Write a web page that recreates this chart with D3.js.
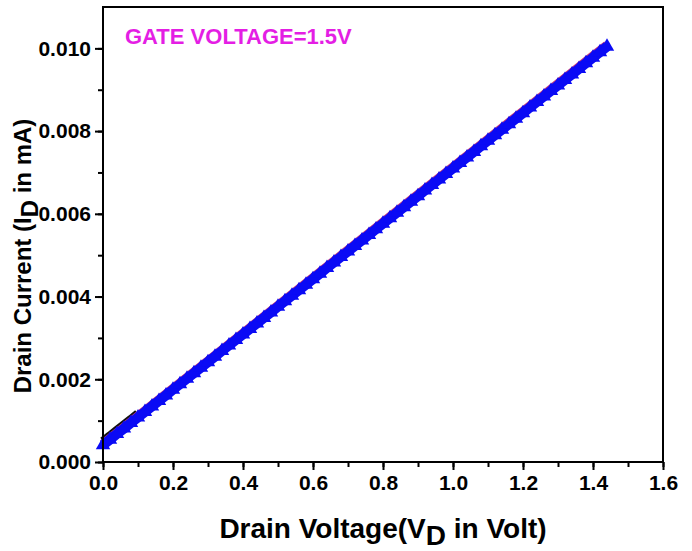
<!DOCTYPE html>
<html>
<head>
<meta charset="utf-8">
<script src="https://cdn.jsdelivr.net/npm/d3@7"></script>
<style>
  html, body { margin: 0; padding: 0; background: #fff; }
  svg { display: block; }
  text { font-family: "Liberation Sans", Arial, sans-serif; font-weight: bold; }
</style>
</head>
<body>
<svg id="chart" width="692" height="551"></svg>
<script>
// ---- Data ----
const voltage = [0.00,0.02,0.04,0.06,0.08,0.10,0.12,0.14,0.16,0.18,0.20,0.22,0.24,0.26,0.28,0.30,0.32,0.34,0.36,0.38,0.40,0.42,0.44,0.46,0.48,0.50,0.52,0.54,0.56,0.58,0.60,0.62,0.64,0.66,0.68,0.70,0.72,0.74,0.76,0.78,0.80,0.82,0.84,0.86,0.88,0.90,0.92,0.94,0.96,0.98,1.00,1.02,1.04,1.06,1.08,1.10,1.12,1.14,1.16,1.18,1.20,1.22,1.24,1.26,1.28,1.30,1.32,1.34,1.36,1.38,1.40,1.42,1.44];
const blueCurrent = [0.000410,0.000544,0.000678,0.000811,0.000945,0.001079,0.001213,0.001347,0.001480,0.001614,0.001748,0.001882,0.002016,0.002149,0.002283,0.002417,0.002551,0.002685,0.002818,0.002952,0.003086,0.003220,0.003354,0.003487,0.003621,0.003755,0.003889,0.004023,0.004156,0.004290,0.004424,0.004558,0.004692,0.004825,0.004959,0.005093,0.005227,0.005361,0.005494,0.005628,0.005762,0.005896,0.006030,0.006163,0.006297,0.006431,0.006565,0.006699,0.006832,0.006966,0.007100,0.007234,0.007368,0.007501,0.007635,0.007769,0.007903,0.008037,0.008170,0.008304,0.008438,0.008572,0.008706,0.008839,0.008973,0.009107,0.009241,0.009375,0.009508,0.009642,0.009776,0.009910,0.010044];

const redVoltage = [0.0,0.1,0.2,0.3,0.4,0.5,0.6,0.7,0.8,0.9,1.0,1.1,1.2,1.3,1.4,1.44];
const redCurrent = [0.00044,0.00111,0.00178,0.00245,0.00312,0.00379,0.00446,0.00513,0.00580,0.00647,0.00714,0.00781,0.00848,0.00915,0.00982,0.01008];

const blackVoltage = [0.00,0.02,0.04,0.06,0.08,0.10];
const blackCurrent = [0.00050,0.00063,0.00077,0.00090,0.00103,0.00117];

const xTicks = [0.0,0.2,0.4,0.6,0.8,1.0,1.2,1.4,1.6];
const yTicks = [0.000,0.002,0.004,0.006,0.008,0.010];
const titleText = "GATE VOLTAGE=1.5V";

// ---- Layout ----
const svg = d3.select("#chart");
const W = 692, H = 551;
const mLeft = 103, mRight = 663, mTop = 7, mBottom = 462;

const x = d3.scaleLinear().domain([0, 1.6]).range([mLeft, mRight]);
const y = d3.scaleLinear().domain([0, 0.011]).range([mBottom, mTop]);

svg.append("rect").attr("width", W).attr("height", H).attr("fill", "#fff");

// ---- Series ----
const toPts = (xs, ys) => xs.map((v, i) => [v, ys[i]]);
const line = d3.line().x(d => x(d[0])).y(d => y(d[1]));
const tri = d3.symbol().type(d3.symbolTriangle).size(90);

const black = toPts(blackVoltage, blackCurrent);
const red = toPts(redVoltage, redCurrent);
const blue = toPts(voltage, blueCurrent);

const g = svg.append("g");
g.append("path").datum(black).attr("d", line).attr("fill", "none")
  .attr("stroke", "#111").attr("stroke-width", 9);

g.append("path").datum(red).attr("d", line).attr("fill", "none")
  .attr("stroke", "#c83c78").attr("stroke-width", 9);

g.append("path").datum(blue).attr("d", line).attr("fill", "none")
  .attr("stroke", "#0a0af5").attr("stroke-width", 10);
g.selectAll(".bl").data(blue).join("path").attr("class", "bl")
  .attr("d", tri).attr("transform", d => `translate(${x(d[0])},${y(d[1])})`).attr("fill", "#0a0af5");

// ---- Frame ----
svg.append("rect").attr("x", mLeft).attr("y", mTop).attr("width", mRight - mLeft).attr("height", mBottom - mTop)
  .attr("fill", "none").attr("stroke", "#000").attr("stroke-width", 2);

// ---- Axes ----
const xMinor = d3.range(0, 17).map(i => i / 10);
const yMinor = d3.range(0, 11).map(i => i / 1000);

const xAxisMinor = d3.axisBottom(x).tickValues(xMinor).tickSize(5).tickFormat("");
const xAxis = d3.axisBottom(x).tickValues(xTicks).tickSize(8).tickPadding(5).tickFormat(d3.format(".1f"));
const yAxisMinor = d3.axisLeft(y).tickValues(yMinor).tickSize(5).tickFormat("");
const yAxis = d3.axisLeft(y).tickValues(yTicks).tickSize(8).tickPadding(4).tickFormat(d3.format(".3f"));

function styleAxis(sel) {
  sel.select(".domain").remove();
  sel.selectAll(".tick line").attr("stroke", "#000").attr("stroke-width", 2);
  sel.selectAll(".tick text").attr("fill", "#000").style("font-size", "21px").style("font-weight", "bold");
}
svg.append("g").attr("transform", `translate(0,${mBottom})`).call(xAxisMinor).call(styleAxis);
svg.append("g").attr("transform", `translate(0,${mBottom})`).call(xAxis).call(styleAxis);
svg.append("g").attr("transform", `translate(${mLeft},0)`).call(yAxisMinor).call(styleAxis);
svg.append("g").attr("transform", `translate(${mLeft},0)`).call(yAxis).call(styleAxis);

// ---- Axis titles ----
const xt = svg.append("text").attr("x", 383).attr("y", 538)
  .attr("text-anchor", "middle").style("font-size", "28px").attr("fill", "#000");
xt.append("tspan").text("Drain Voltage(V");
xt.append("tspan").attr("dy", 7).text("D");
xt.append("tspan").attr("dy", -7).text(" in Volt)");

const yt = svg.append("text").attr("transform", `translate(31,256) rotate(-90)`)
  .attr("text-anchor", "middle").style("font-size", "24px").attr("fill", "#000");
yt.append("tspan").text("Drain Current (I");
yt.append("tspan").attr("dy", 7).text("D");
yt.append("tspan").attr("dy", -7).text(" in mA)");

// ---- Annotation ----
svg.append("text").attr("x", 125).attr("y", 44).style("font-size", "22px")
  .attr("fill", "#e41ee4").text(titleText);
</script>
</body>
</html>
